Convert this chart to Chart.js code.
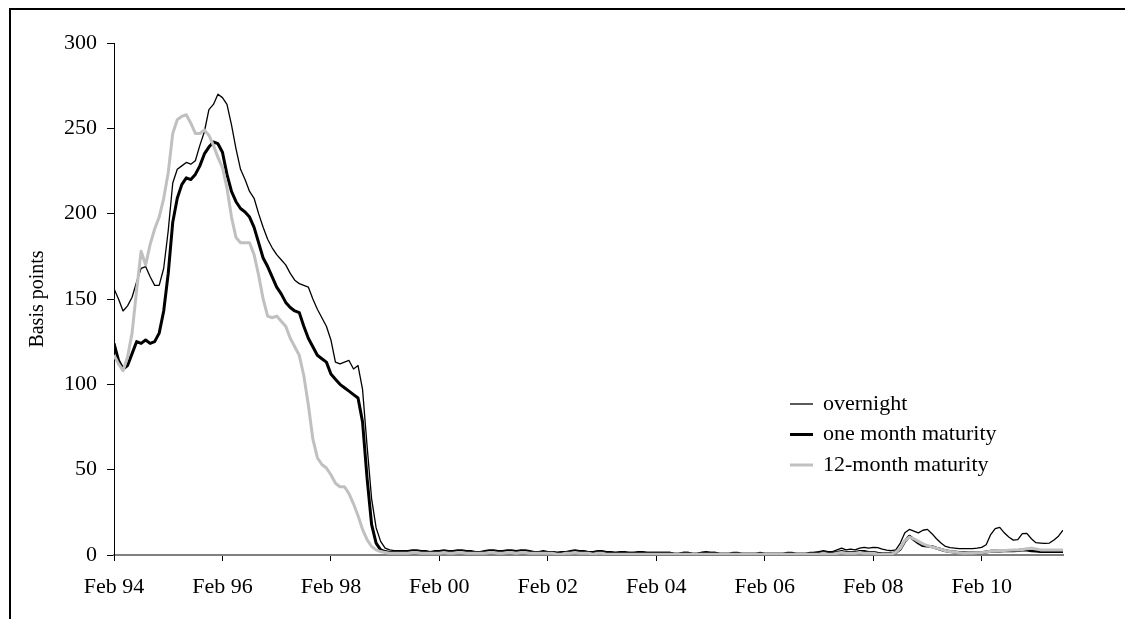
<!DOCTYPE html>
<html>
<head>
<meta charset="utf-8">
<script src="https://cdn.jsdelivr.net/npm/chart.js@4.4.0/dist/chart.umd.min.js"></script>
<style>
  html, body { margin: 0; padding: 0; background: #fff; overflow: hidden; }
  #wrap { position: relative; width: 1125px; height: 619px; }
  #chart { position: absolute; left: 0; top: 0; }
  /* cadre coupé : seuls les bords haut et gauche sont visibles */
  #frame { position: absolute; left: 9px; top: 8px; width: 1300px; height: 800px;
           border-top: 2px solid #000; border-left: 2px solid #000; pointer-events: none; }
</style>
</head>
<body>
<div id="wrap">
  <canvas id="chart" width="1125" height="619"></canvas>
  <div id="frame"></div>
</div>
<script>
// Données mensuelles, Feb 94 (index 0) -> Aug 11 (index 210)
const tickLabels = ['Feb 94', 'Feb 96', 'Feb 98', 'Feb 00', 'Feb 02', 'Feb 04', 'Feb 06', 'Feb 08', 'Feb 10'];
const tickIndex = [0, 24, 48, 72, 96, 120, 144, 168, 192];

const overnight = [
  156, 150, 143, 146, 151, 160, 168, 169, 163, 158, 158, 168, 190,
  218, 226, 228, 230, 229, 231, 240, 248, 261, 264, 270, 268,
  264, 252, 238, 226, 220, 213, 209, 200, 192, 185, 180, 176,
  173, 170, 165, 161, 159, 158, 157, 150, 144, 139, 134, 126,
  113, 112, 113, 114, 109, 111, 97, 64, 33, 16, 8, 4,
  3, 2.5, 2.5, 2.5, 2.5, 3, 3, 2.5, 2.5, 2, 2.5, 2.5,
  3, 2.5, 2.5, 3, 3, 2.5, 2.5, 2, 2, 2.5, 3, 3, 2.5, 2.5, 3, 3, 2.5, 3, 3, 2.5, 2, 2, 2.5, 2,
  2, 1.5, 2, 2, 2.5, 3, 2.5, 2.5, 2, 2, 2.5, 2.5, 2, 2, 1.5, 2, 2, 1.5, 1.5, 2, 2, 1.5, 1.5, 1.5,
  1.5, 1.5, 1.5, 1, 1, 1.5, 1.5, 1, 1, 1.5, 2, 1.5, 1.5, 1, 1, 1, 1.5, 1.5, 1, 1, 1, 1, 1.5, 1,
  1, 1, 1, 1, 1.5, 1.5, 1, 1, 1, 1.5, 1.5, 2, 2.5, 2, 2, 3, 4, 3, 3.5, 3, 4, 4.5, 4, 4.5,
  4.3, 3.5, 2.9, 2.5, 3, 7, 13, 15, 14, 13, 14.5, 15, 12.5, 9.5, 7, 5, 4.3, 4, 3.7, 3.7, 3.7,
  3.7, 4, 4.5, 6, 12, 15.5, 16.2, 13, 10.5, 8.7, 9, 12.5, 12.7, 9.5, 7.2, 7, 6.8, 7, 8.8, 11, 14.5
];

const oneMonth = [
  124, 114, 109, 111, 118, 125, 124, 126, 124, 125, 130, 143, 165,
  195, 209, 217, 221, 220, 223, 228, 235, 239, 242, 241, 236,
  223, 213, 207, 203, 201, 198, 192, 183, 174, 169, 163, 157,
  153, 148, 145, 143, 142, 134, 127, 122, 117, 115, 113, 106,
  103, 100, 98, 96, 94, 92, 78, 45, 18, 7, 3, 2,
  1.5, 1.5, 1.5, 1.5, 1.5, 2, 2, 1.5, 1.5, 1.5, 1.5, 1.5,
  2, 1.5, 1.5, 2, 2, 1.5, 1.5, 1.5, 1.5, 1.5, 2, 2, 1.5, 1.5, 2, 2, 1.5, 2, 2, 1.5, 1.5, 1.5, 1.5, 1.5,
  1.5, 1, 1, 1.5, 1.5, 2, 1.5, 1.5, 1.5, 1, 1.5, 1.5, 1, 1, 1, 1, 1, 1, 1, 1, 1, 1, 1, 1,
  1, 1, 1, 0.5, 0.5, 1, 1, 0.5, 0.5, 1, 1, 1, 1, 0.5, 0.5, 0.5, 0.5, 0.5, 0.5, 0.5, 0.5, 0.5, 0.5, 0.5,
  0.5, 0.5, 0.5, 0.5, 0.5, 0.5, 0.5, 0.5, 0.5, 0.5, 1, 1, 1.5, 1, 1, 1.5, 2, 1.5, 1.5, 1.5, 2, 2, 1.5, 1.5,
  1, 0.8, 0.8, 0.8, 1.5, 3.5, 8, 11, 9, 7, 5.5, 5.2, 4.9, 4, 3.2, 2.5, 2, 1.7, 1.4, 1.3, 1.2,
  1.2, 1.2, 1.4, 1.8, 2.2, 2.3, 2.4, 2.5, 2.5, 2.5, 2.7, 2.9, 2.9, 2.5, 2.3, 2, 2, 2, 2, 2, 2
];

const twelveMonth = [
  117, 112, 108, 116, 130, 155, 178, 170, 182, 191, 198, 209, 224,
  247, 255, 257, 258, 253, 247, 247, 249, 246, 240, 233, 227,
  215, 198, 186, 183, 183, 183, 176, 164, 150, 140, 139, 140,
  137, 134, 127, 122, 117, 105, 88, 68, 57, 53, 51, 47,
  42, 40, 40, 36, 30, 23, 15, 9, 5, 3, 2, 1.5,
  1, 1, 1, 1, 1, 1.5, 1.5, 1, 1, 1, 1, 1,
  1.5, 1, 1, 1.5, 1.5, 1, 1, 1, 1, 1, 1.5, 1.5, 1, 1, 1.5, 1.5, 1, 1.5, 1.5, 1, 1, 1, 1, 1,
  1, 0.5, 0.5, 1, 1, 1.5, 1, 1, 1, 0.5, 1, 1, 0.5, 0.5, 0.5, 0.5, 0.5, 0.5, 0.5, 0.5, 0.5, 0.5, 0.5, 0.5,
  0.5, 0.5, 0.5, 0.5, 0.5, 0.5, 0.5, 0.5, 0.5, 0.5, 0.5, 0.5, 0.5, 0.5, 0.5, 0.5, 0.5, 0.5, 0.5, 0.5, 0.5, 0.5, 0.5, 0.5,
  0.5, 0.5, 0.5, 0.5, 0.5, 0.5, 0.5, 0.5, 0.5, 0.5, 0.5, 0.5, 1, 0.5, 0.5, 1, 1.5, 1, 1, 1, 1.5, 1, 1, 1,
  0.5, 0.5, 0.5, 0.5, 1.5, 4, 8.5, 10.5, 9.5, 8, 6.5, 5.5, 4.7, 4, 3.3, 2.5, 2, 1.7, 1.3, 1, 1,
  1, 1.2, 1.4, 1.8, 2.2, 2.5, 2.6, 2.7, 2.8, 2.9, 3, 3.2, 3.6, 3.9, 3.5, 3, 2.9, 2.9, 2.9, 2.9, 2.9
];

const SERIF = "'Liberation Serif', 'Times New Roman', serif";
Chart.defaults.font.family = SERIF;
Chart.defaults.font.size = 22;
Chart.defaults.color = '#000';

const toPoints = arr => arr.map((v, i) => ({ x: i, y: v }));

// Légende dessinée à l'intérieur de la zone du graphique
const insideLegend = {
  id: 'insideLegend',
  afterDraw(chart) {
    const ctx = chart.ctx;
    ctx.save();
    ctx.font = '22px ' + SERIF;
    ctx.textBaseline = 'middle';
    ctx.fillStyle = '#000';
    chart.data.datasets.forEach((ds, i) => {
      const y = 404 + i * 30.5;
      ctx.strokeStyle = ds.borderColor;
      ctx.lineWidth = ds.borderWidth;
      ctx.beginPath();
      ctx.moveTo(790, y);
      ctx.lineTo(813, y);
      ctx.stroke();
      ctx.fillText(ds.label, 823, y);
    });
    ctx.restore();
  }
};

new Chart(document.getElementById('chart'), {
  type: 'line',
  data: {
    datasets: [
      { label: 'overnight', data: toPoints(overnight), borderColor: '#000', borderWidth: 1.3, order: 2 },
      { label: 'one month maturity', data: toPoints(oneMonth), borderColor: '#000', borderWidth: 3, order: 1 },
      { label: '12-month maturity', data: toPoints(twelveMonth), borderColor: '#c0c0c0', borderWidth: 3, order: 0 }
    ]
  },
  options: {
    responsive: false,
    animation: false,
    devicePixelRatio: 1,
    layout: { padding: { left: 10, top: 43, right: 62, bottom: 0 } },
    elements: { point: { radius: 0 }, line: { tension: 0, borderJoinStyle: 'round' } },
    plugins: { legend: { display: false }, tooltip: { enabled: false } },
    scales: {
      x: {
        type: 'linear',
        min: 0,
        max: 210,
        afterBuildTicks: axis => { axis.ticks = tickIndex.map(v => ({ value: v })); },
        afterFit: axis => { axis.height = 64; },
        grid: { drawOnChartArea: false, drawTicks: true, tickLength: 6, color: '#000' },
        border: { display: true, color: '#808080', width: 2 },
        ticks: { padding: 13, maxRotation: 0, autoSkip: false,
                 callback: v => tickLabels[tickIndex.indexOf(v)] }
      },
      y: {
        min: 0,
        max: 300,
        afterFit: axis => { axis.width = 104; },
        ticks: { stepSize: 50, padding: 10 },
        grid: { drawOnChartArea: false, drawTicks: true, tickLength: 7, color: '#000' },
        border: { display: true, color: '#000', width: 1 },
        title: { display: true, text: 'Basis points', font: { size: 20 }, padding: { top: 16, bottom: 0 } }
      }
    }
  },
  plugins: [insideLegend]
});
</script>
</body>
</html>
